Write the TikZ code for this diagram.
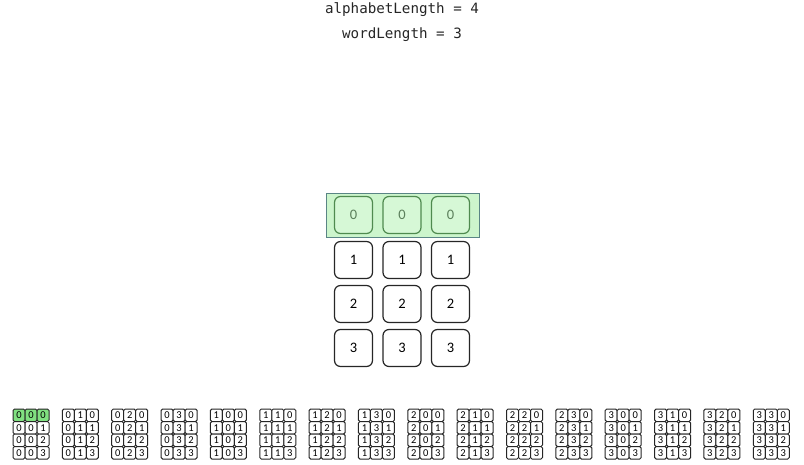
\documentclass[tikz,border=0pt]{standalone}
\usepackage{fontspec}
\setmainfont{Carlito}
\newfontfamily\codefont{DejaVu Sans Mono}
\definecolor{hlfill}{HTML}{CCF5CC}
\definecolor{hldraw}{HTML}{5A8585}
\definecolor{cellgreen}{HTML}{D6F8D6}
\definecolor{cellgreenline}{HTML}{4F8A4F}
\definecolor{cellgreentext}{HTML}{5B7F5B}
\definecolor{minigreen}{HTML}{80E080}
\begin{document}
\begin{tikzpicture}[x=1pt,y=-1pt,
  titletext/.style={inner sep=0pt, font=\codefont\fontsize{14.2}{16}\selectfont, text=black!85},
  hlbox/.style={draw=hldraw, fill=hlfill, line width=0.9pt, minimum width=153pt, minimum height=44pt, inner sep=0pt},
  bigcell/.style={draw=black!85, fill=white, line width=1.2pt, rounded corners=6pt, minimum width=38pt, minimum height=37pt, inner sep=0pt, font=\fontsize{14.5}{16}\selectfont},
  bigcellhl/.style={bigcell, draw=cellgreenline, fill=cellgreen, text=cellgreentext},
  minicell/.style={draw=black!85, fill=white, line width=1pt, rounded corners=1.5pt, minimum width=12pt, minimum height=12.5pt, inner sep=0pt, font=\fontsize{10.5}{11}\selectfont},
  minicellhl/.style={minicell, fill=minigreen}
]
\useasboundingbox (0,0) rectangle (804,464);
\node[titletext] (t1) at (402,10) {alphabetLength = 4};
\node[titletext] (t2) at (402,35) {wordLength = 3};
\node[hlbox] (hl) at (402.5,215) {};
\foreach \c/\x in {1/353.5, 2/402, 3/450.5}{
  \node[bigcellhl] (b0\c) at (\x,215) {0};
  \foreach \r/\y in {1/260, 2/304, 3/348}{
    \node[bigcell] (b\r\c) at (\x,\y) {\r};
  }
}
\foreach \g in {0,...,15}{
  \pgfmathtruncatemacro{\ga}{int(\g/4)}
  \pgfmathtruncatemacro{\gb}{mod(\g,4)}
  \pgfmathsetmacro{\gx}{13+49.35*\g}
  \foreach \r in {0,...,3}{
    \pgfmathsetmacro{\gy}{415.25+12.5*\r}
    \ifnum\g=0 \ifnum\r=0
      \def\cs{minicellhl}\else\def\cs{minicell}\fi
    \else\def\cs{minicell}\fi
    \node[\cs] (m\g-\r-1) at (\gx+6,\gy) {\ga};
    \node[\cs] (m\g-\r-2) at (\gx+18,\gy) {\gb};
    \node[\cs] (m\g-\r-3) at (\gx+30,\gy) {\r};
  }
}
\end{tikzpicture}
\end{document}
